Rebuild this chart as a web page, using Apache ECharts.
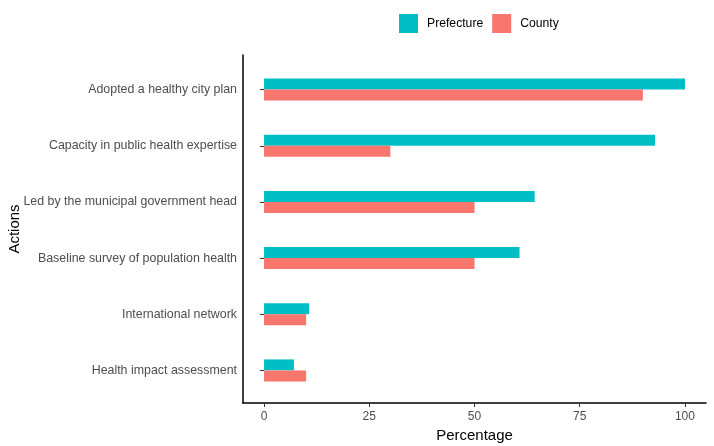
<!DOCTYPE html>
<html>
<head>
<meta charset="utf-8">
<script src="https://cdn.jsdelivr.net/npm/echarts@6/dist/echarts.min.js"></script>
<style>
  html, body { margin: 0; padding: 0; background: #fff; }
  #main { width: 714px; height: 446px; }
</style>
</head>
<body>
<div id="main"></div>
<script>
// data
var actions = [
  'Adopted a healthy city plan',
  'Capacity in public health expertise',
  'Led by the municipal government head',
  'Baseline survey of population health',
  'International network',
  'Health impact assessment'
];
var prefecture = [100, 92.9, 64.3, 60.7, 10.7, 7.1];
var county = [90, 30, 50, 50, 10, 10];
var xTicks = [0, 25, 50, 75, 100];

var font = 'Liberation Sans, Arial, Helvetica, sans-serif';
var chart = echarts.init(document.getElementById('main'));

chart.setOption({
  animation: false,
  backgroundColor: '#fff',
  textStyle: { fontFamily: font },
  legend: {
    top: 9,
    left: 394,
    itemWidth: 19,
    itemHeight: 19,
    itemGap: 9,
    icon: 'rect',
    textStyle: { fontSize: 12.2, color: '#000', fontFamily: font, padding: [0, 0, 0, 4] },
    data: ['Prefecture', 'County']
  },
  grid: [
    // frame with axis lines
    { left: 243, right: 8, top: 55, bottom: 43, outerBoundsMode: 'none' },
    // bars
    { left: 243, right: 8, top: 61.5, bottom: 47.5, outerBoundsMode: 'none' }
  ],
  xAxis: [
    {
      gridIndex: 0, type: 'value', min: -5, max: 105,
      name: 'Percentage', nameLocation: 'middle', nameGap: 21,
      nameTextStyle: { fontSize: 15, color: '#000', fontFamily: font },
      axisLine: { show: true, onZero: false, lineStyle: { color: '#000', width: 1.5 } },
      axisTick: { show: true, length: 4, customValues: xTicks, lineStyle: { color: '#333' } },
      axisLabel: { customValues: xTicks, fontSize: 12, color: '#4d4d4d', margin: 8 },
      splitLine: { show: false }
    },
    {
      gridIndex: 1, type: 'value', min: -5, max: 105, show: false
    }
  ],
  yAxis: [
    {
      gridIndex: 0, type: 'value', min: 0, max: 1,
      name: 'Actions', nameLocation: 'middle', nameGap: 221, nameRotate: 90,
      nameTextStyle: { fontSize: 15, color: '#000', fontFamily: font },
      axisLine: { show: true, onZero: false, lineStyle: { color: '#000', width: 1.5 } },
      axisTick: { show: false },
      axisLabel: { show: false },
      splitLine: { show: false }
    },
    {
      gridIndex: 1, type: 'category', data: actions, inverse: true,
      axisLine: { show: false },
      axisTick: { show: true, alignWithLabel: true, length: 4, lineStyle: { color: '#333' } },
      axisLabel: { fontSize: 12.4, color: '#4d4d4d', margin: 6 },
      splitLine: { show: false }
    }
  ],
  series: [
    {
      name: 'Prefecture', type: 'bar', xAxisIndex: 1, yAxisIndex: 1,
      data: prefecture, barWidth: 11, barGap: '0%',
      itemStyle: { color: '#00BFC4' }
    },
    {
      name: 'County', type: 'bar', xAxisIndex: 1, yAxisIndex: 1,
      data: county, barWidth: 11, barGap: '0%',
      itemStyle: { color: '#F8766D' }
    }
  ]
});
</script>
</body>
</html>
